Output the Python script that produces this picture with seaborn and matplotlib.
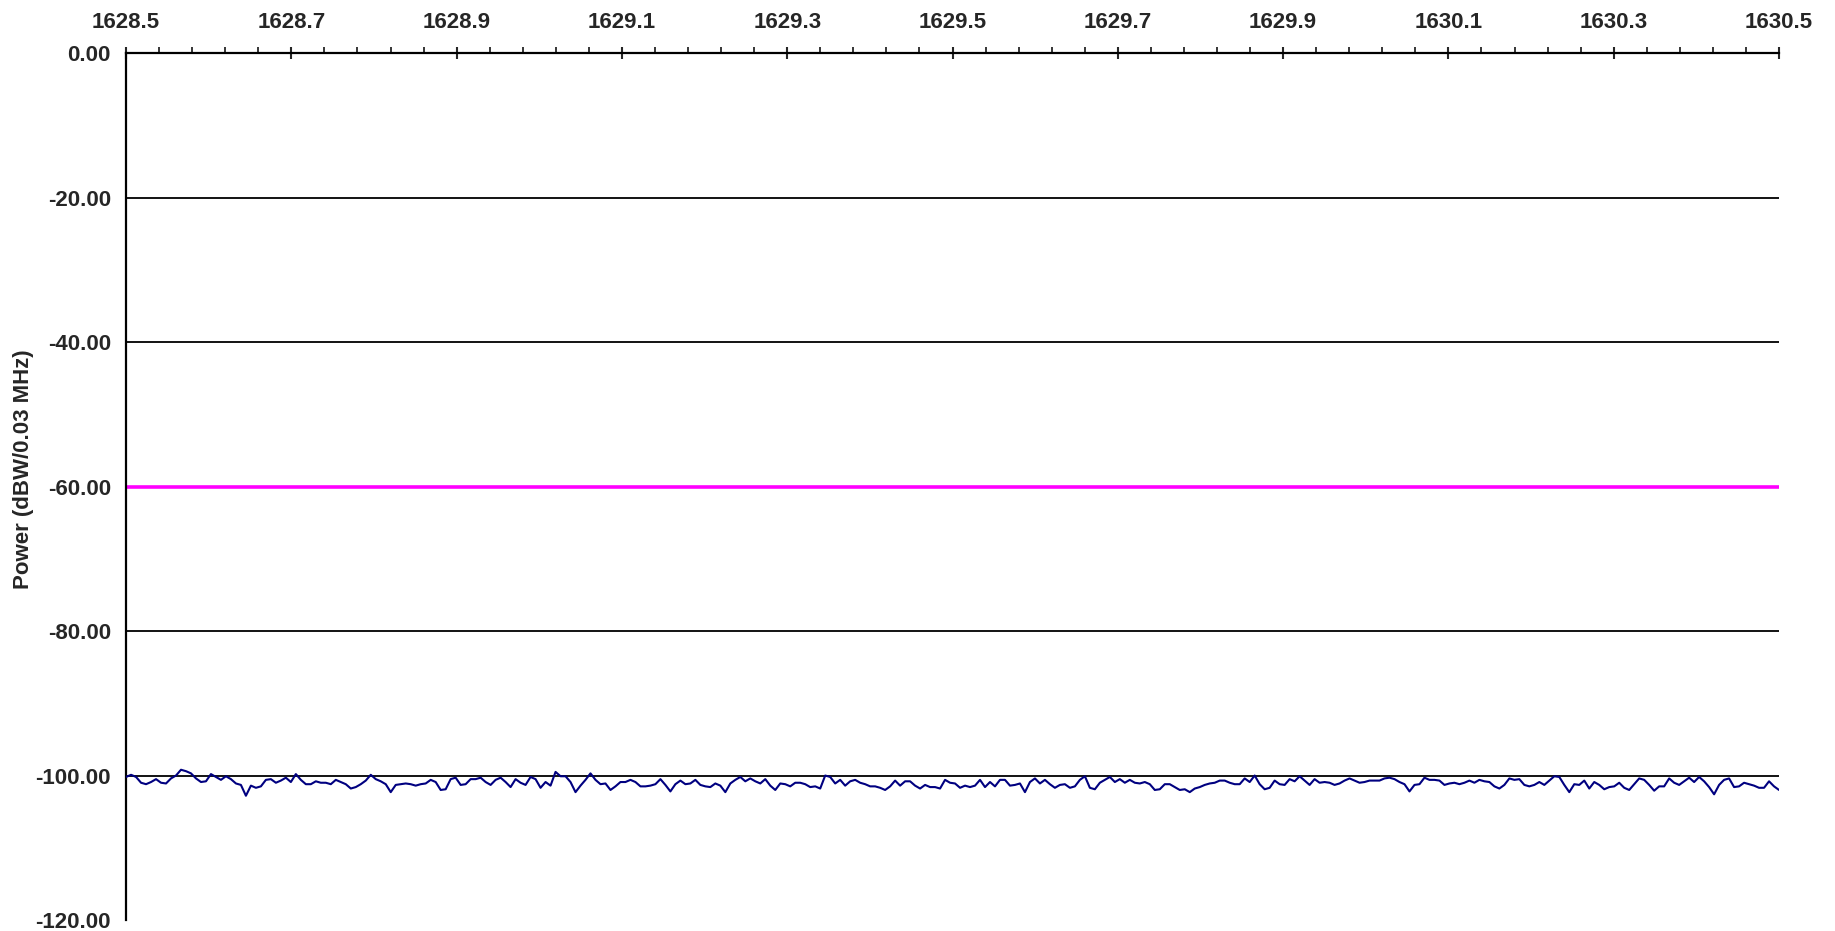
import numpy as np
import matplotlib
matplotlib.use("Agg")
import matplotlib.pyplot as plt
import seaborn as sns

# ==========================================
# DATA
# ==========================================
f_start, f_stop = 1628.5, 1630.5
y_min, y_max = -120, 0
grid_levels = [-20, -40, -80, -100]
mask_level = -60

power_a = [-100.2, -99.9, -100.2, -101.0, -101.2, -100.9, -100.5, -101.0, -101.1, -100.4,
           -100.0, -99.2, -99.4, -99.7, -100.4, -100.9, -100.8, -99.8, -100.2, -100.6,
           -100.1, -100.5, -101.1, -101.3, -102.8, -101.4, -101.7, -101.5, -100.6, -100.5,
           -101.0, -100.7, -100.3, -100.9, -99.8, -100.6, -101.2, -101.2, -100.8]
power_b = [-101.0, -101.0, -101.2, -100.6, -100.9, -101.2, -101.8, -101.6, -101.2, -100.7,
           -99.9, -100.5, -100.8, -101.2, -102.3, -101.3, -101.2, -101.1, -101.2, -101.4,
           -101.2, -101.1, -100.6, -100.9, -102.0, -101.9, -100.5, -100.3, -101.3, -101.2,
           -100.5, -100.5, -100.3, -100.9, -101.3, -100.6, -100.3, -100.9, -101.6, -100.5]
power_c = [-101.0, -101.3, -100.2, -100.5, -101.7, -100.9, -101.4, -99.5, -100.1, -100.1,
           -100.9, -102.3, -101.4, -100.6, -99.7, -100.6, -101.2, -101.1, -102.0, -101.5,
           -100.9, -100.9, -100.6, -100.9, -101.5, -101.5, -101.4, -101.2, -100.5, -101.3,
           -102.2, -101.2, -100.7, -101.2, -101.1, -100.6, -101.3, -101.5, -101.6, -101.1]
power_d = [-101.4, -102.3, -101.1, -100.6, -100.2, -100.8, -100.4, -100.8, -101.1, -100.5,
           -101.4, -102.0, -101.1, -101.2, -101.5, -101.0, -101.0, -101.2, -101.6, -101.5,
           -101.8, -100.0, -100.2, -101.1, -100.6, -101.4, -100.8, -100.6, -101.0, -101.2,
           -101.5, -101.5, -101.7, -102.0, -101.5, -100.7, -101.4, -100.8, -100.8, -101.4]
power_e = [-101.8, -101.3, -101.6, -101.6, -101.8, -100.6, -101.0, -101.1, -101.7, -101.4,
           -101.6, -101.4, -100.6, -101.6, -100.9, -101.5, -100.6, -100.6, -101.4, -101.3,
           -101.1, -102.3, -100.9, -100.4, -101.1, -100.6, -101.2, -101.7, -101.3, -101.2,
           -101.7, -101.5, -100.6, -100.1, -101.7, -101.9, -101.0, -100.6, -100.2, -100.9]
power_f = [-100.5, -101.0, -100.6, -101.0, -101.1, -100.9, -101.2, -102.0, -101.9, -101.2,
           -101.2, -101.6, -102.0, -101.9, -102.3, -101.8, -101.6, -101.3, -101.1, -101.0,
           -100.7, -100.7, -101.0, -101.2, -101.2, -100.4, -100.9, -100.0, -101.2, -101.9,
           -101.7, -100.7, -101.2, -101.3, -100.5, -100.8, -100.1, -100.7, -101.3, -100.5]
power_g = [-101.0, -100.9, -101.0, -101.3, -101.1, -100.7, -100.4, -100.7, -101.0, -100.9,
           -100.7, -100.7, -100.7, -100.4, -100.3, -100.5, -100.9, -101.2, -102.2, -101.3,
           -101.2, -100.3, -100.6, -100.6, -100.7, -101.3, -101.1, -101.0, -101.2, -101.0,
           -100.7, -101.0, -100.6, -100.8, -100.9, -101.5, -101.8, -101.3, -100.4, -100.6]
power_h = [-100.5, -101.3, -101.5, -101.3, -100.9, -101.3, -100.7, -100.1, -100.2, -101.3,
           -102.3, -101.2, -101.3, -100.7, -101.8, -100.9, -101.3, -101.9, -101.6, -101.5,
           -101.0, -101.7, -102.0, -101.2, -100.4, -100.6, -101.3, -102.1, -101.5, -101.5,
           -100.4, -101.0, -101.3, -100.8, -100.3, -100.9, -100.2, -100.8, -101.6, -102.6]
power_i = [-101.3, -100.6, -100.4, -101.6, -101.5, -101.0, -101.2, -101.4, -101.7, -101.7,
           -100.8, -101.5, -102.0]

power = power_a + power_b + power_c + power_d + power_e + power_f + power_g + power_h + power_i
freqs = np.linspace(f_start, f_stop, len(power))

major_x = np.round(np.arange(f_start, f_stop + 1e-6, 0.2), 1)
minor_x = np.arange(f_start, f_stop + 1e-6, 0.04)
major_y = np.arange(y_min, y_max + 1, 20)
minor_y = np.arange(y_min, y_max + 1, 4)

# ==========================================
# PLOT
# ==========================================
sns.set_style("white")
plt.rcParams['font.family'] = ['Liberation Sans', 'DejaVu Sans']
plt.rcParams['font.weight'] = 'bold'

fig = plt.figure(figsize=(18.35, 9.31), dpi=100)
ax = fig.add_axes([0.0687, 0.0118, 0.9008, 0.9312])

for lvl in grid_levels:
    ax.axhline(lvl, color='black', linewidth=1.3, zorder=1)
ax.axhline(mask_level, color='#FF00FF', linewidth=2.6, zorder=1)

sns.lineplot(x=freqs, y=power, color='#000080', linewidth=1.5, ax=ax, zorder=3)

ax.set_xlim(f_start, f_stop)
ax.set_ylim(y_min, y_max)

ax.xaxis.tick_top()
ax.set_xticks(major_x)
ax.set_xticks(minor_x, minor=True)
ax.set_xticklabels([f"{v:.1f}" for v in major_x], fontsize=16, fontweight='bold')
ax.set_yticks(major_y)
ax.set_yticks(minor_y, minor=True)
ax.set_yticklabels([f"{v:.2f}" for v in major_y], fontsize=16, fontweight='bold')

ax.tick_params(axis='x', which='major', direction='inout', length=9, width=1.5,
               top=True, bottom=False, labeltop=True, labelbottom=False, pad=10)
ax.tick_params(axis='x', which='minor', direction='out', length=4, width=1.3,
               top=True, bottom=False)
ax.tick_params(axis='y', which='major', direction='out', length=5, width=1.5, pad=6)
ax.tick_params(axis='y', which='minor', direction='in', length=4, width=1.3)

for side in ['right', 'bottom']:
    ax.spines[side].set_visible(False)
for side in ['left', 'top']:
    ax.spines[side].set_color('black')
    ax.spines[side].set_linewidth(1.6)

ax.set_xlabel('')
ax.set_ylabel('Power (dBW/0.03 MHz)', fontsize=16, fontweight='bold')
ax.yaxis.set_label_coords(-0.0557, 0.52)

fig.savefig('out.png', dpi=100, facecolor='white')
